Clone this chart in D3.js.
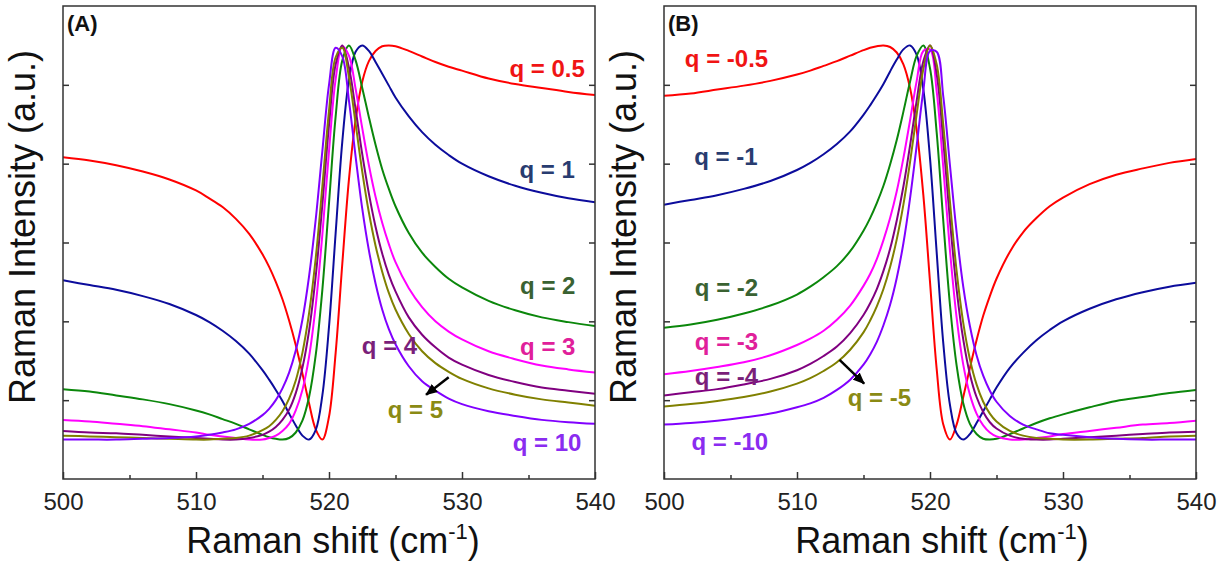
<!DOCTYPE html>
<html>
<head>
<meta charset="utf-8">
<script src="https://cdn.jsdelivr.net/npm/d3@7"></script>
<style>
  body { margin: 0; background: #fff; }
  svg text { font-family: "Liberation Sans", Arial, sans-serif; }
</style>
</head>
<body>
<div id="chart"></div>
<script>
// Raman shift sample positions (cm-1), shared by every curve
const shift = [500, 502, 504, 506, 508, 510, 511, 512, 513, 514, 515, 515.5, 516, 516.5, 517, 517.5,
  518, 518.5, 519, 519.5, 520, 520.5, 521, 521.5, 522, 522.5, 523, 523.5, 524, 524.5, 525,
  526, 527, 528, 529, 530, 532, 534, 536, 538, 540];

// Panel (A), positive q
const a05 = [4.08, 4.04, 3.98, 3.90, 3.80, 3.66, 3.56, 3.45, 3.30, 3.11, 2.85, 2.69, 2.50, 2.28, 2.01, 1.70, 1.34, 0.96, 0.63, 0.50, 0.79, 1.60, 2.73, 3.80, 4.56, 5.04, 5.30, 5.43, 5.49, 5.50, 5.49, 5.43, 5.36, 5.29, 5.23, 5.18, 5.08, 5.01, 4.96, 4.91, 4.87];
const a1 = [2.52, 2.46, 2.40, 2.32, 2.22, 2.08, 1.99, 1.88, 1.75, 1.59, 1.38, 1.26, 1.13, 0.99, 0.83, 0.68, 0.55, 0.50, 0.62, 1.06, 1.93, 3.12, 4.28, 5.06, 5.42, 5.50, 5.43, 5.29, 5.14, 4.99, 4.84, 4.60, 4.40, 4.24, 4.11, 4.00, 3.84, 3.72, 3.63, 3.56, 3.51];
const a2 = [1.14, 1.11, 1.06, 1.01, 0.95, 0.87, 0.82, 0.76, 0.70, 0.63, 0.56, 0.53, 0.51, 0.50, 0.52, 0.59, 0.74, 1.04, 1.57, 2.40, 3.50, 4.60, 5.31, 5.50, 5.31, 4.96, 4.59, 4.24, 3.93, 3.68, 3.46, 3.12, 2.87, 2.69, 2.54, 2.43, 2.26, 2.14, 2.05, 1.99, 1.94];
const a3 = [0.75, 0.73, 0.70, 0.67, 0.63, 0.59, 0.56, 0.54, 0.52, 0.50, 0.50, 0.52, 0.55, 0.61, 0.70, 0.87, 1.13, 1.55, 2.20, 3.10, 4.16, 5.07, 5.49, 5.37, 4.95, 4.45, 3.98, 3.58, 3.25, 2.98, 2.75, 2.42, 2.18, 2.00, 1.87, 1.77, 1.62, 1.52, 1.44, 1.39, 1.35];
const a4 = [0.61, 0.59, 0.58, 0.56, 0.54, 0.52, 0.51, 0.50, 0.50, 0.52, 0.56, 0.60, 0.66, 0.75, 0.88, 1.09, 1.41, 1.88, 2.57, 3.48, 4.49, 5.26, 5.50, 5.22, 4.69, 4.12, 3.62, 3.20, 2.86, 2.59, 2.38, 2.05, 1.83, 1.67, 1.54, 1.45, 1.32, 1.23, 1.16, 1.12, 1.08];
const a5 = [0.55, 0.54, 0.53, 0.52, 0.51, 0.50, 0.50, 0.51, 0.52, 0.55, 0.62, 0.67, 0.75, 0.86, 1.02, 1.25, 1.60, 2.10, 2.80, 3.71, 4.67, 5.35, 5.47, 5.10, 4.51, 3.90, 3.38, 2.96, 2.63, 2.36, 2.15, 1.84, 1.62, 1.47, 1.36, 1.27, 1.15, 1.07, 1.01, 0.97, 0.93];
const a10 = [0.50, 0.50, 0.50, 0.51, 0.52, 0.54, 0.56, 0.59, 0.63, 0.70, 0.81, 0.89, 1.00, 1.15, 1.35, 1.63, 2.02, 2.57, 3.29, 4.16, 5.00, 5.47, 5.36, 4.80, 4.09, 3.43, 2.90, 2.48, 2.15, 1.90, 1.71, 1.43, 1.24, 1.12, 1.02, 0.95, 0.86, 0.80, 0.75, 0.72, 0.70];

// Panel (B), negative q
const b05 = [4.86, 4.89, 4.94, 4.99, 5.05, 5.13, 5.18, 5.24, 5.30, 5.37, 5.44, 5.47, 5.49, 5.50, 5.48, 5.41, 5.26, 4.96, 4.43, 3.60, 2.50, 1.40, 0.69, 0.50, 0.69, 1.04, 1.41, 1.76, 2.07, 2.32, 2.54, 2.88, 3.13, 3.31, 3.46, 3.57, 3.74, 3.86, 3.94, 4.01, 4.06];
const b1 = [3.48, 3.54, 3.60, 3.68, 3.78, 3.92, 4.01, 4.12, 4.25, 4.41, 4.62, 4.74, 4.87, 5.01, 5.17, 5.32, 5.45, 5.50, 5.38, 4.94, 4.07, 2.88, 1.72, 0.94, 0.58, 0.50, 0.57, 0.71, 0.86, 1.01, 1.16, 1.41, 1.60, 1.76, 1.89, 2.00, 2.16, 2.28, 2.37, 2.44, 2.49];
const b2 = [1.92, 1.96, 2.02, 2.10, 2.20, 2.34, 2.44, 2.56, 2.70, 2.89, 3.15, 3.31, 3.50, 3.72, 3.99, 4.30, 4.66, 5.04, 5.37, 5.50, 5.21, 4.40, 3.27, 2.21, 1.44, 0.96, 0.70, 0.57, 0.51, 0.50, 0.51, 0.57, 0.64, 0.71, 0.77, 0.82, 0.91, 0.99, 1.04, 1.09, 1.13];
const b3 = [1.33, 1.37, 1.42, 1.48, 1.57, 1.70, 1.78, 1.88, 2.02, 2.20, 2.45, 2.60, 2.79, 3.03, 3.31, 3.65, 4.07, 4.55, 5.05, 5.43, 5.45, 4.92, 3.95, 2.90, 2.05, 1.45, 1.07, 0.83, 0.68, 0.59, 0.54, 0.50, 0.50, 0.52, 0.54, 0.57, 0.61, 0.65, 0.69, 0.71, 0.74];
const b4 = [1.06, 1.10, 1.14, 1.20, 1.27, 1.38, 1.46, 1.56, 1.68, 1.85, 2.08, 2.23, 2.41, 2.64, 2.92, 3.28, 3.71, 4.23, 4.80, 5.30, 5.50, 5.14, 4.29, 3.28, 2.41, 1.77, 1.33, 1.04, 0.85, 0.72, 0.64, 0.55, 0.51, 0.50, 0.50, 0.51, 0.53, 0.55, 0.57, 0.59, 0.60];
const b5 = [0.92, 0.95, 0.99, 1.04, 1.11, 1.21, 1.28, 1.37, 1.48, 1.64, 1.86, 2.01, 2.19, 2.41, 2.69, 3.04, 3.48, 4.02, 4.63, 5.20, 5.50, 5.26, 4.49, 3.52, 2.64, 1.98, 1.52, 1.20, 0.98, 0.83, 0.73, 0.61, 0.55, 0.52, 0.51, 0.50, 0.50, 0.51, 0.52, 0.54, 0.55];
const b10 = [0.69, 0.71, 0.74, 0.78, 0.83, 0.91, 0.96, 1.03, 1.13, 1.26, 1.45, 1.58, 1.74, 1.95, 2.21, 2.55, 2.99, 3.56, 4.23, 4.93, 5.43, 5.42, 4.85, 3.98, 3.13, 2.44, 1.94, 1.57, 1.31, 1.12, 0.98, 0.80, 0.69, 0.63, 0.58, 0.56, 0.53, 0.51, 0.50, 0.50, 0.50];

const qA = ["0.5", "1", "2", "3", "4", "5", "10"];
const qB = ["-0.5", "-1", "-2", "-3", "-4", "-5", "-10"];
const majorTicks = [500, 510, 520, 530, 540];
const minorTicks = [505, 515, 525, 535];
const yTicks = [1, 2, 3, 4, 5];

const lineColors = ["#ff0000", "#0c0c9c", "#0b870b", "#ff00ff", "#800080", "#808000", "#8000ff"];
const labelColors = ["#f01414", "#283c70", "#3a6232", "#e0209a", "#7a1f7a", "#8a8a14", "#8a2cf0"];

const svg = d3.select("#chart")
  .append("svg")
  .attr("width", 1228)
  .attr("height", 567);

const defs = svg.append("defs");
defs.append("marker")
  .attr("id", "arrowhead")
  .attr("markerUnits", "userSpaceOnUse")
  .attr("viewBox", "0 0 12 10")
  .attr("refX", 11)
  .attr("refY", 5)
  .attr("markerWidth", 12)
  .attr("markerHeight", 10)
  .attr("orient", "auto")
  .append("path")
  .attr("d", "M0,0 L12,5 L0,10 Z")
  .attr("fill", "#000");

class FanoPanel {
  constructor(_config, _data) {
    this.config = {
      parent: _config.parent,
      id: _config.id,
      left: _config.left,
      top: _config.top || 6,
      width: _config.width || 532,
      height: _config.height || 473,
      tag: _config.tag,
      titleX: _config.titleX,
      labels: _config.labels,
      arrow: _config.arrow,
    };
    this.data = _data;
    this.initVis();
  }

  initVis() {
    let vis = this;
    const W = vis.config.width, H = vis.config.height;

    vis.chart = vis.config.parent
      .append("g")
      .attr("transform", `translate(${vis.config.left},${vis.config.top})`);

    vis.xScale = d3.scaleLinear().domain([500, 540]).range([0, W]);
    vis.yScale = d3.scaleLinear().domain([0, 6]).range([H, 0]);

    defs.append("clipPath")
      .attr("id", `clip-${vis.config.id}`)
      .append("rect")
      .attr("width", W)
      .attr("height", H);

    vis.lines = vis.chart.append("g").attr("clip-path", `url(#clip-${vis.config.id})`);

    // Axes: ticks point inward
    vis.xAxis = vis.chart.append("g").attr("transform", `translate(0,${H})`)
      .call(d3.axisBottom(vis.xScale).tickValues(majorTicks).tickSize(-7).tickPadding(14).tickFormat(d3.format("d")));
    vis.xMinor = vis.chart.append("g").attr("transform", `translate(0,${H})`)
      .call(d3.axisBottom(vis.xScale).tickValues(minorTicks).tickSize(-4).tickFormat(""));
    vis.yLeft = vis.chart.append("g")
      .call(d3.axisLeft(vis.yScale).tickValues(yTicks).tickSize(-6).tickFormat(""));
    vis.yRight = vis.chart.append("g").attr("transform", `translate(${W},0)`)
      .call(d3.axisRight(vis.yScale).tickValues(yTicks).tickSize(-6).tickFormat(""));

    vis.chart.selectAll(".domain").remove();
    vis.chart.selectAll(".tick line").attr("stroke", "#333").attr("stroke-width", 1.5);
    vis.xAxis.selectAll(".tick text")
      .attr("fill", "#222")
      .style("font-size", "24px");

    vis.chart.append("rect")
      .attr("width", W)
      .attr("height", H)
      .attr("fill", "none")
      .attr("stroke", "#333")
      .attr("stroke-width", 1.5);

    // Axis titles
    vis.chart.append("text")
      .attr("transform", "rotate(-90)")
      .attr("x", -221)
      .attr("y", -28)
      .attr("text-anchor", "middle")
      .attr("fill", "#111")
      .style("font-size", "36px")
      .text("Raman Intensity (a.u.)");

    const xt = vis.chart.append("text")
      .attr("x", vis.config.titleX - vis.config.left)
      .attr("y", 547)
      .attr("text-anchor", "middle")
      .attr("fill", "#111")
      .style("font-size", "36px");
    xt.append("tspan").text("Raman shift (cm");
    xt.append("tspan").attr("dy", -14).style("font-size", "22px").text("-1");
    xt.append("tspan").attr("dy", 14).text(")");

    // Panel tag
    vis.chart.append("text")
      .attr("x", 4)
      .attr("y", 25)
      .attr("fill", "#111")
      .style("font-size", "22px")
      .style("font-weight", "bold")
      .text(vis.config.tag);
  }

  updateVis() {
    let vis = this;

    const line = d3.line()
      .x((d, i) => vis.xScale(shift[i]))
      .y((d) => vis.yScale(d))
      .curve(d3.curveCatmullRom);

    vis.lines.selectAll(".fano-line")
      .data(vis.data)
      .join("path")
      .attr("class", "fano-line")
      .attr("d", (d) => line(d.values))
      .attr("fill", "none")
      .attr("stroke", (d, i) => lineColors[i])
      .attr("stroke-width", 2);

    vis.chart.selectAll(".q-label")
      .data(vis.config.labels)
      .join("text")
      .attr("class", "q-label")
      .attr("x", (d) => vis.xScale(d.x))
      .attr("y", (d) => vis.yScale(d.y))
      .attr("dy", "0.36em")
      .attr("text-anchor", "middle")
      .attr("fill", (d, i) => labelColors[i])
      .style("font-size", "24px")
      .style("font-weight", "bold")
      .text((d, i) => `q = ${vis.data[i].q}`);

    const a = vis.config.arrow;
    vis.chart.append("line")
      .attr("x1", vis.xScale(a.from[0]))
      .attr("y1", vis.yScale(a.from[1]))
      .attr("x2", vis.xScale(a.to[0]))
      .attr("y2", vis.yScale(a.to[1]))
      .attr("stroke", "#000")
      .attr("stroke-width", 2.5)
      .attr("marker-end", "url(#arrowhead)");
  }
}

const seriesA = [a05, a1, a2, a3, a4, a5, a10].map((v, i) => ({ q: qA[i], values: v }));
const seriesB = [b05, b1, b2, b3, b4, b5, b10].map((v, i) => ({ q: qB[i], values: v }));

const panelA = new FanoPanel({
  parent: svg, id: "A", left: 63, tag: "(A)", titleX: 333,
  labels: [
    { x: 536.4, y: 5.21 }, { x: 536.4, y: 3.93 }, { x: 536.45, y: 2.45 }, { x: 536.45, y: 1.68 },
    { x: 524.55, y: 1.70 }, { x: 526.5, y: 0.88 }, { x: 536.4, y: 0.47 },
  ],
  arrow: { from: [529.0, 1.29], to: [527.3, 1.07] },
}, seriesA);
panelA.updateVis();

const panelB = new FanoPanel({
  parent: svg, id: "B", left: 664, tag: "(B)", titleX: 942,
  labels: [
    { x: 504.7, y: 5.33 }, { x: 504.65, y: 4.09 }, { x: 504.7, y: 2.43 }, { x: 504.7, y: 1.75 },
    { x: 504.7, y: 1.30 }, { x: 516.2, y: 1.04 }, { x: 504.95, y: 0.48 },
  ],
  arrow: { from: [513.2, 1.51], to: [515.05, 1.21] },
}, seriesB);
panelB.updateVis();
</script>
</body>
</html>
